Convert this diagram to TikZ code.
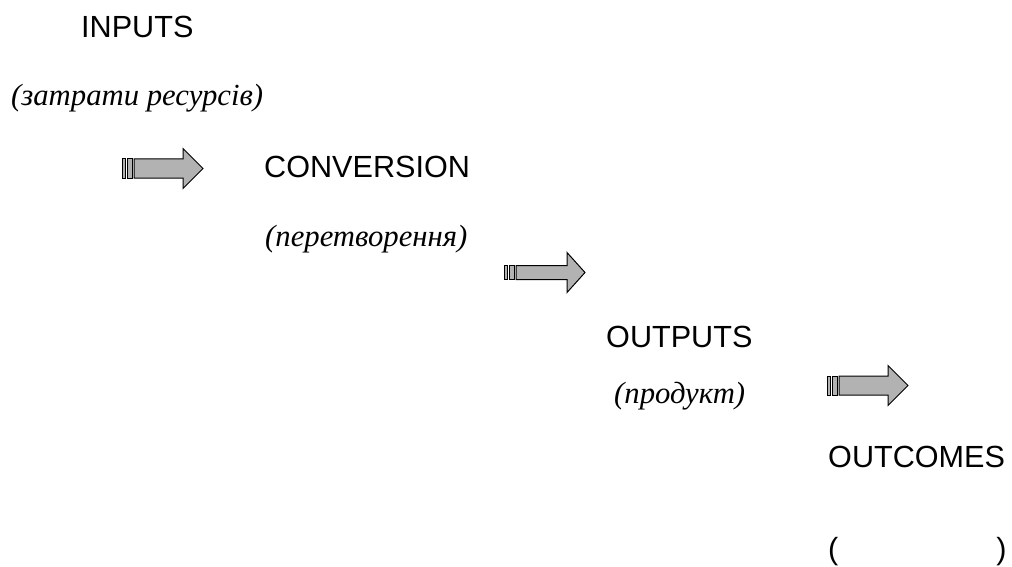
\documentclass[tikz,border=0pt]{standalone}
\usepackage{fontspec}
\setmainfont{Liberation Serif}
\setsansfont{Liberation Sans}
\tikzset{
  heading/.style={font=\sffamily\fontsize{30.6}{36}\selectfont, anchor=base west, inner sep=0pt},
  note/.style={font=\itshape\fontsize{30.7}{36}\selectfont, anchor=base west, inner sep=0pt},
  arrowfill/.style={fill=black!30, draw=black, line width=1pt, line join=miter},
  pics/fatarrow/.style args={#1/#2}{code={
    \draw[arrowfill] (0,-#1) rectangle (3.5,#1);
    \draw[arrowfill] (5,-#1) rectangle (10.5,#1);
    \draw[arrowfill] (12,-#1) -- (#2,-#1) -- (#2,-20) -- (81,0) -- (#2,20) -- (#2,#1) -- (12,#1) -- cycle;
  }}
}
\begin{document}
\begin{tikzpicture}[x=1pt,y=-1pt]
\useasboundingbox (0,0) rectangle (1012,567);
\node[heading] (inputs) at (81,38) {INPUTS};
\node[note] (inputsnote) at (11,106) {(затрати ресурсів)};
\pic (arrowA) at (122,168.5) {fatarrow={9.5/61}};
\node[heading] (conversion) at (264,177) {CONVERSION};
\node[note] (conversionnote) at (265,246) {(перетворення)};
\pic (arrowB) at (504,272.5) {fatarrow={7/63}};
\node[heading] (outputs) at (606,347) {OUTPUTS};
\node[note] (outputsnote) at (614,403) {(продукт)};
\pic (arrowC) at (827,385.5) {fatarrow={9.5/61}};
\node[heading] (outcomes) at (828,467) {OUTCOMES};
\node[heading] (outcomesnote) at (828,559) {(\hspace*{158pt})};
\end{tikzpicture}
\end{document}
